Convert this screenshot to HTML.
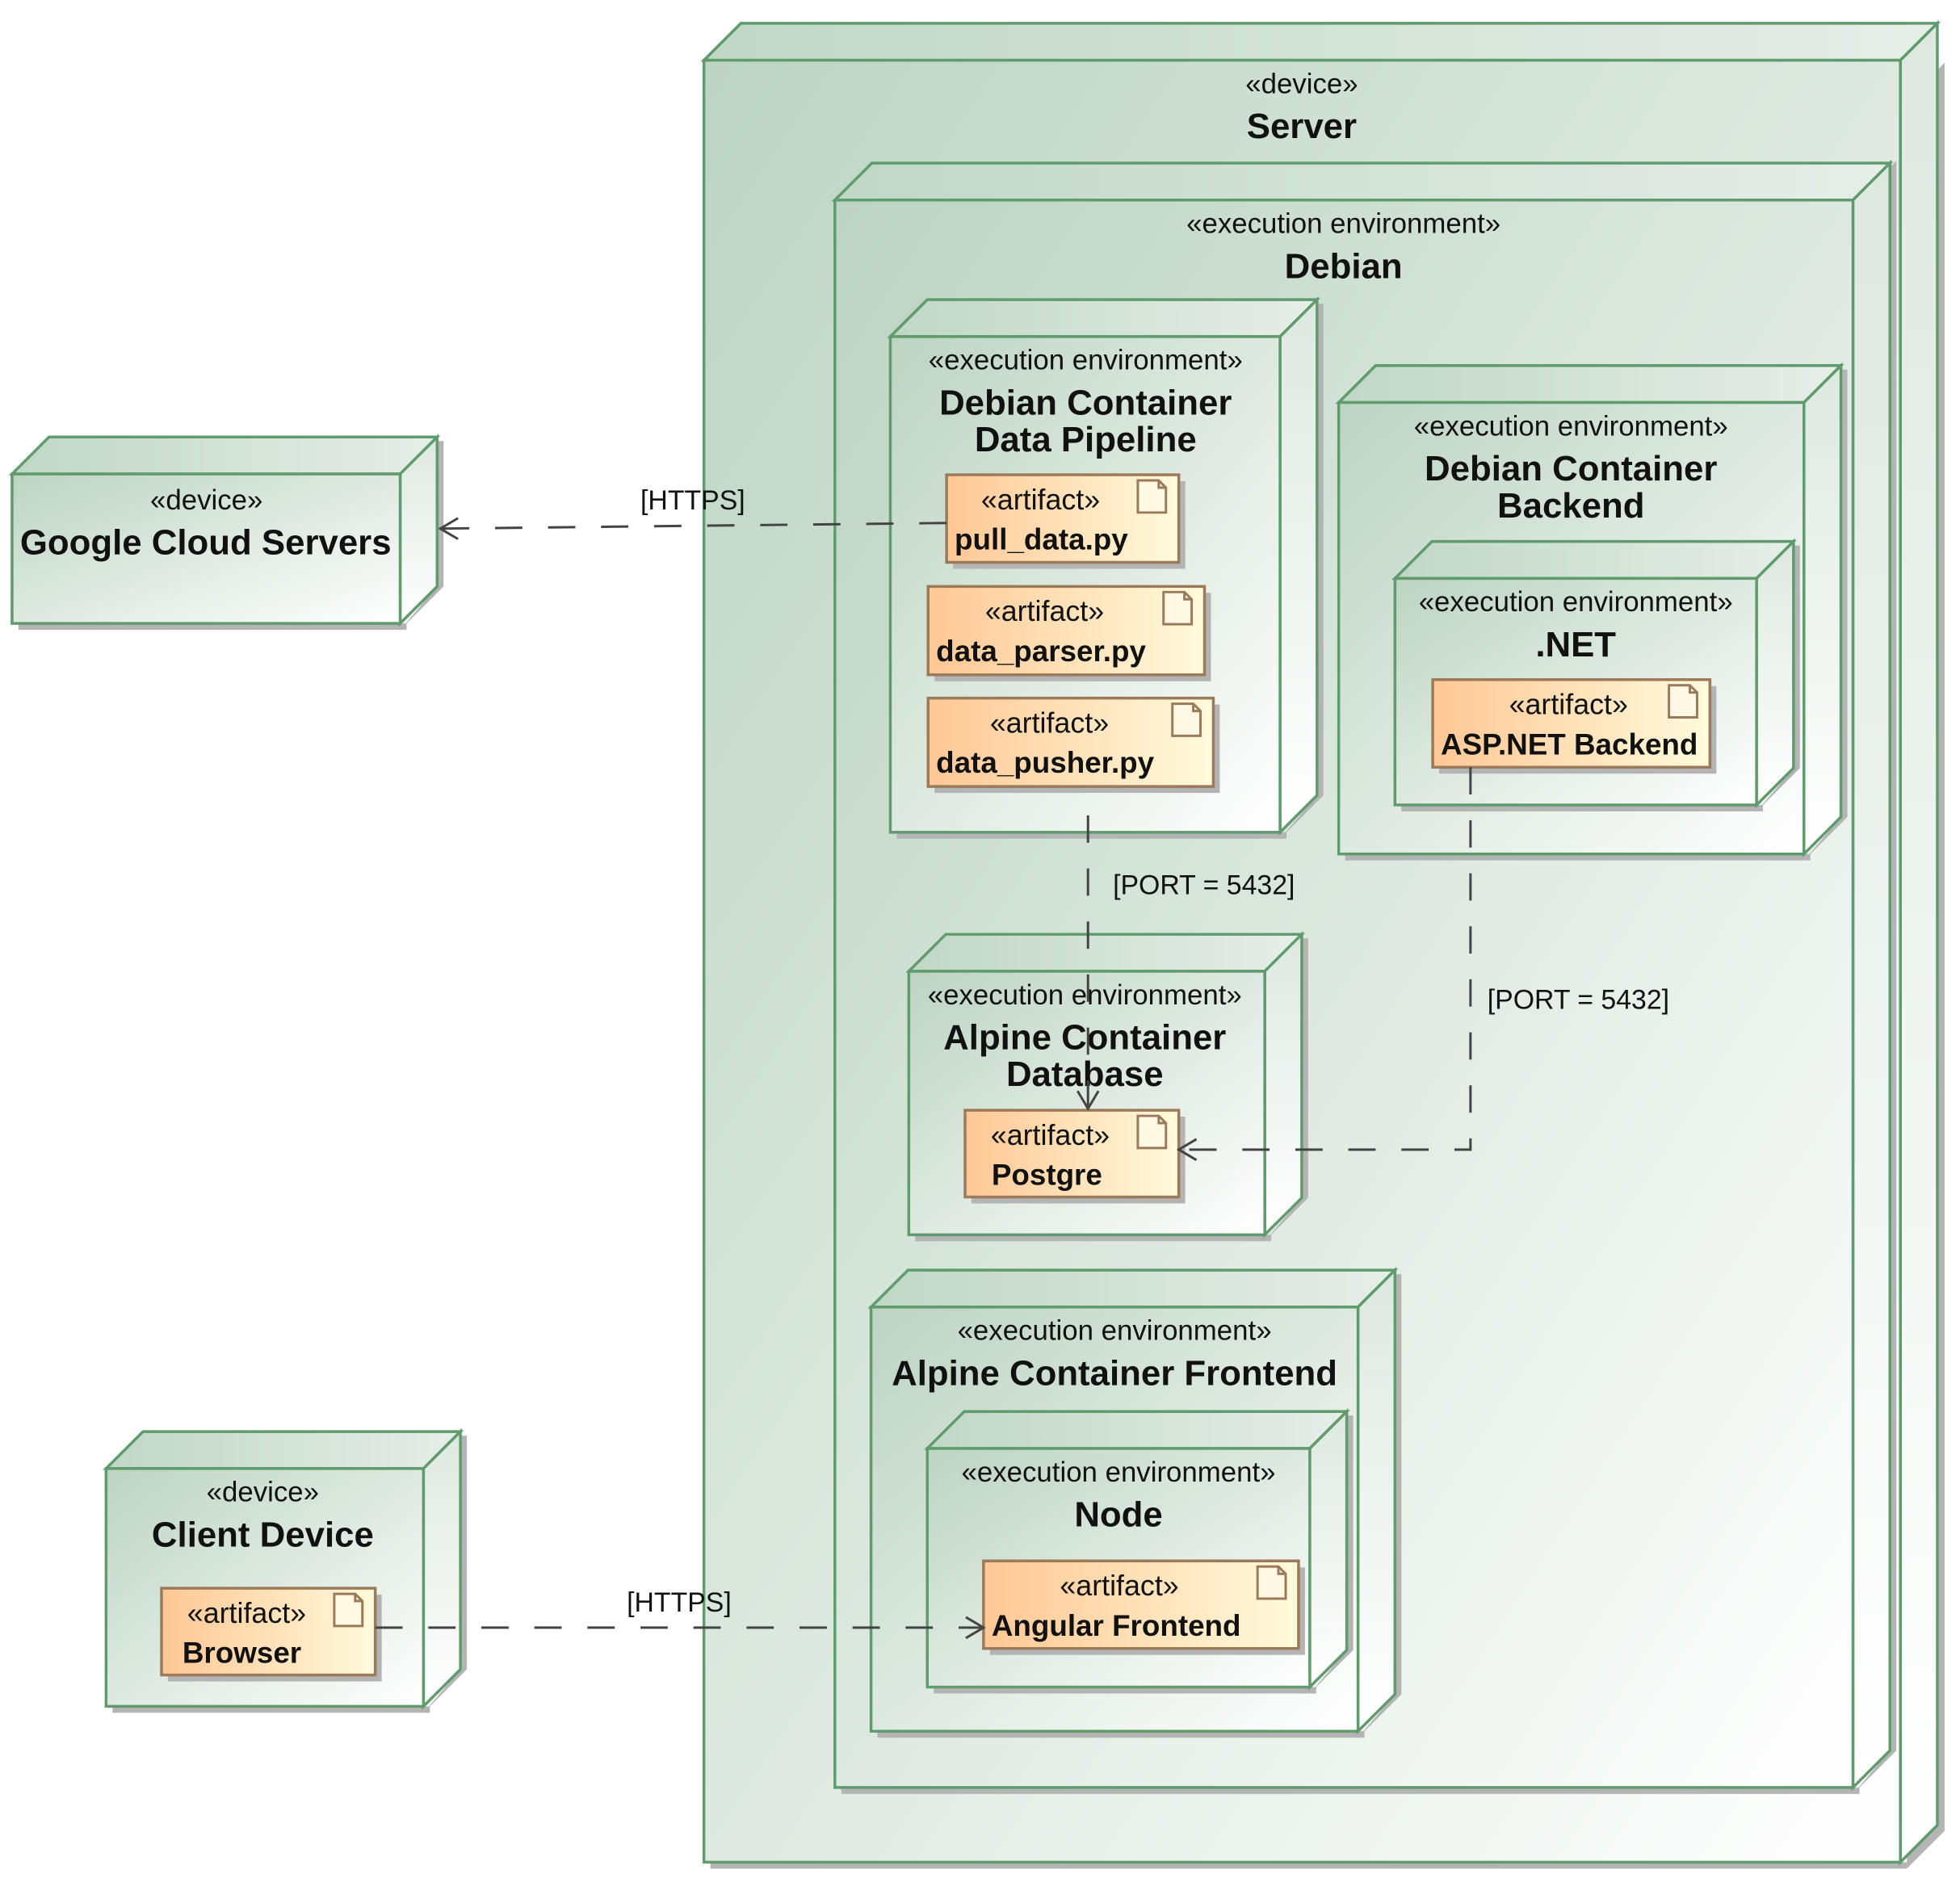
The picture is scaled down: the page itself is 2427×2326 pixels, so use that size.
<!DOCTYPE html>
<html><head><meta charset="utf-8"><style>
html,body{margin:0;padding:0;background:#fff;}
svg{display:block;}
.st{font-family:"Liberation Sans",sans-serif;font-size:35px;fill:#111;text-anchor:middle;}
.sa{font-family:"Liberation Sans",sans-serif;font-size:36px;fill:#111;text-anchor:middle;}
.nm{font-family:"Liberation Sans",sans-serif;font-size:44px;font-weight:bold;fill:#111;text-anchor:middle;}
.an{font-family:"Liberation Sans",sans-serif;font-size:37px;font-weight:bold;fill:#111;}
.lb{font-family:"Liberation Sans",sans-serif;font-size:34px;fill:#111;}
.fr{stroke:#5f9b6c;stroke-width:3.5;fill:url(#g);}
.tp{stroke:#5f9b6c;stroke-width:3.5;fill:url(#gt);}
.rt{stroke:#5f9b6c;stroke-width:3.5;fill:url(#gr);}
.sh{fill:#b4b4b4;}
.ar{stroke:#9b7a5a;stroke-width:3.5;fill:url(#ga);}
.ic{stroke:#9b7a5a;stroke-width:3;fill:#fff8e4;}
.cn{stroke:#444;stroke-width:3;fill:none;stroke-dasharray:34 32;}
.ah{stroke:#444;stroke-width:3;fill:none;}
</style></head><body>
<svg width="2427" height="2326" viewBox="0 0 2427 2326" xmlns="http://www.w3.org/2000/svg">
<defs>
<linearGradient id="g" x1="0" y1="0" x2="1" y2="1"><stop offset="0" stop-color="#bcd4c2"/><stop offset="1" stop-color="#ffffff"/></linearGradient>
<linearGradient id="gt" x1="0" y1="0" x2="1" y2="0"><stop offset="0" stop-color="#c0d7c6"/><stop offset="1" stop-color="#e6eee8"/></linearGradient>
<linearGradient id="gr" x1="0" y1="0" x2="0" y2="1"><stop offset="0" stop-color="#dde9e0"/><stop offset="1" stop-color="#ffffff"/></linearGradient>
<linearGradient id="ga" x1="0" y1="0" x2="1" y2="0"><stop offset="0" stop-color="#ffc794"/><stop offset="1" stop-color="#fffbdc"/></linearGradient>
</defs>
<g transform="scale(0.995)">
<!-- Server -->
<g>
<polygon class="sh" points="2373,2326 2420,2279 2420,78 2373,125"/>
<rect class="sh" x="884" y="2318" width="1489" height="8"/>
<polygon class="tp" points="876,75 922,29 2411,29 2365,75"/>
<polygon class="rt" points="2365,75 2411,29 2411,2272 2365,2318"/>
<rect class="fr" x="876" y="75" width="1489" height="2243"/>
<text class="st" x="1620" y="116">«device»</text>
<text class="nm" x="1620" y="172">Server</text>
</g>

<!-- Debian -->
<g>
<rect class="sh" x="1047" y="2225" width="1267" height="8"/>
<polygon class="sh" points="2306,2233 2360,2179 2360,200 2352,208 2352,2179"/>
<polygon class="tp" points="1039,249 1085,203 2352,203 2306,249"/>
<polygon class="rt" points="2306,249 2352,203 2352,2179 2306,2225"/>
<rect class="fr" x="1039" y="249" width="1267" height="1976"/>
<text class="st" x="1672" y="290">«execution environment»</text>
<text class="nm" x="1672" y="346">Debian</text>
</g>

<!-- Pipeline -->
<g transform="translate(5,0)">
<rect class="sh" x="1111" y="1036" width="485" height="8"/>
<polygon class="sh" points="1588,1044 1642,990 1642,378 1634,378 1634,990"/>
<polygon class="tp" points="1103,419 1149,373 1634,373 1588,419"/>
<polygon class="rt" points="1588,419 1634,373 1634,990 1588,1036"/>
<rect class="fr" x="1103" y="419" width="485" height="617"/>
<text class="st" x="1346" y="460">«execution environment»</text>
<text class="nm" x="1346" y="516">Debian Container</text>
<text class="nm" x="1346" y="562">Data Pipeline</text>
</g>

<!-- Backend -->
<g>
<rect class="sh" x="1674" y="1063" width="579" height="8"/>
<polygon class="sh" points="2245,1071 2299,1017 2299,460 2291,460 2291,1017"/>
<polygon class="tp" points="1666,501 1712,455 2291,455 2245,501"/>
<polygon class="rt" points="2245,501 2291,455 2291,1017 2245,1063"/>
<rect class="fr" x="1666" y="501" width="579" height="562"/>
<text class="st" x="1955" y="542">«execution environment»</text>
<text class="nm" x="1955" y="598">Debian Container</text>
<text class="nm" x="1955" y="644">Backend</text>
</g>

<!-- .NET -->
<g>
<rect class="sh" x="1744" y="1002" width="450" height="8"/>
<polygon class="sh" points="2186,1010 2240,956 2240,679 2232,679 2232,956"/>
<polygon class="tp" points="1736,720 1782,674 2232,674 2186,720"/>
<polygon class="rt" points="2186,720 2232,674 2232,956 2186,1002"/>
<rect class="fr" x="1736" y="720" width="450" height="282"/>
<text class="st" x="1961" y="761">«execution environment»</text>
<text class="nm" x="1961" y="817">.NET</text>
</g>

<!-- Alpine DB -->
<g>
<rect class="sh" x="1139" y="1537" width="443" height="8"/>
<polygon class="sh" points="1574,1545 1628,1491 1628,1168 1620,1168 1620,1491"/>
<polygon class="tp" points="1131,1209 1177,1163 1620,1163 1574,1209"/>
<polygon class="rt" points="1574,1209 1620,1163 1620,1491 1574,1537"/>
<rect class="fr" x="1131" y="1209" width="443" height="328"/>
<text class="st" x="1350" y="1250">«execution environment»</text>
<text class="nm" x="1350" y="1306">Alpine Container</text>
<text class="nm" x="1350" y="1352">Database</text>
</g>

<!-- Frontend -->
<g>
<rect class="sh" x="1092" y="2155" width="606" height="8"/>
<polygon class="sh" points="1690,2163 1744,2109 1744,1586 1736,1586 1736,2109"/>
<polygon class="tp" points="1084,1627 1130,1581 1736,1581 1690,1627"/>
<polygon class="rt" points="1690,1627 1736,1581 1736,2109 1690,2155"/>
<rect class="fr" x="1084" y="1627" width="606" height="528"/>
<text class="st" x="1387" y="1668">«execution environment»</text>
<text class="nm" x="1387" y="1724">Alpine Container Frontend</text>
</g>

<!-- Node -->
<g>
<rect class="sh" x="1162" y="2100" width="476" height="8"/>
<polygon class="sh" points="1630,2108 1684,2054 1684,1762 1676,1762 1676,2054"/>
<polygon class="tp" points="1154,1803 1200,1757 1676,1757 1630,1803"/>
<polygon class="rt" points="1630,1803 1676,1757 1676,2054 1630,2100"/>
<rect class="fr" x="1154" y="1803" width="476" height="297"/>
<text class="st" x="1392" y="1844">«execution environment»</text>
<text class="nm" x="1392" y="1900">Node</text>
</g>

<!-- Google -->
<g>
<rect class="sh" x="23" y="776" width="483" height="8"/>
<polygon class="sh" points="498,784 552,730 552,549 544,549 544,730"/>
<polygon class="tp" points="15,590 61,544 544,544 498,590"/>
<polygon class="rt" points="498,590 544,544 544,730 498,776"/>
<rect class="fr" x="15" y="590" width="483" height="186"/>
<text class="st" x="257" y="634">«device»</text>
<text class="nm" x="256" y="690">Google Cloud Servers</text>
</g>

<!-- Client -->
<g>
<rect class="sh" x="140" y="2124" width="395" height="8"/>
<polygon class="sh" points="527,2132 581,2078 581,1787 573,1787 573,2078"/>
<polygon class="tp" points="132,1828 178,1782 573,1782 527,1828"/>
<polygon class="rt" points="527,1828 573,1782 573,2078 527,2124"/>
<rect class="fr" x="132" y="1828" width="395" height="296"/>
<text class="st" x="327" y="1869">«device»</text>
<text class="nm" x="327" y="1925">Client Device</text>
</g>

<!-- Artifacts -->
<g transform="translate(6,0)">
<g>
<rect class="sh" x="1180" y="599" width="289" height="109"/>
<rect class="ar" x="1172" y="591" width="289" height="109"/>
<path class="ic" d="M1410,598 h26 l9,9 v31 h-35 z M1436,598 v9 h9"/>
<text class="sa" x="1289" y="634">«artifact»</text>
<text class="an" x="1182" y="684">pull_data.py</text>
</g>
<g>
<rect class="sh" x="1157" y="738" width="344" height="110"/>
<rect class="ar" x="1149" y="730" width="344" height="110"/>
<path class="ic" d="M1442,737 h26 l9,9 v31 h-35 z M1468,737 v9 h9"/>
<text class="sa" x="1294" y="773">«artifact»</text>
<text class="an" x="1159" y="823">data_parser.py</text>
</g>
<g>
<rect class="sh" x="1157" y="877" width="355" height="110"/>
<rect class="ar" x="1149" y="869" width="355" height="110"/>
<path class="ic" d="M1453,876 h26 l9,9 v31 h-35 z M1479,876 v9 h9"/>
<text class="sa" x="1300" y="912">«artifact»</text>
<text class="an" x="1159" y="962">data_pusher.py</text>
</g>
</g>
<g>
<rect class="sh" x="1791" y="854" width="345" height="109"/>
<rect class="ar" x="1783" y="846" width="345" height="109"/>
<path class="ic" d="M2077,853 h26 l9,9 v31 h-35 z M2103,853 v9 h9"/>
<text class="sa" x="1952" y="889">«artifact»</text>
<text class="an" x="1793" y="939">ASP.NET Backend</text>
</g>
<g>
<rect class="sh" x="1209" y="1390" width="266" height="108"/>
<rect class="ar" x="1201" y="1382" width="266" height="108"/>
<path class="ic" d="M1416,1389 h26 l9,9 v31 h-35 z M1442,1389 v9 h9"/>
<text class="sa" x="1307" y="1425">«artifact»</text>
<text class="an" x="1234" y="1475">Postgre</text>
</g>
<g>
<rect class="sh" x="1232" y="1951" width="392" height="109"/>
<rect class="ar" x="1224" y="1943" width="392" height="109"/>
<path class="ic" d="M1565,1950 h26 l9,9 v31 h-35 z M1591,1950 v9 h9"/>
<text class="sa" x="1393" y="1986">«artifact»</text>
<text class="an" x="1234" y="2036">Angular Frontend</text>
</g>
<g>
<rect class="sh" x="209" y="1985" width="266" height="108"/>
<rect class="ar" x="201" y="1977" width="266" height="108"/>
<path class="ic" d="M416,1984 h26 l9,9 v31 h-35 z M442,1984 v9 h9"/>
<text class="sa" x="307" y="2020">«artifact»</text>
<text class="an" x="227" y="2070">Browser</text>
</g>

<!-- Connectors -->
<line class="cn" x1="1178" y1="651" x2="548" y2="658"/>
<path class="ah" d="M570,645 L548,658 L570,671"/>
<text class="lb" x="797" y="634">[HTTPS]</text>

<line class="cn" x1="1354" y1="1015" x2="1354" y2="1380"/>
<path class="ah" d="M1341,1358 L1354,1380 L1367,1358"/>
<text class="lb" x="1385" y="1113">[PORT = 5432]</text>

<polyline class="cn" points="1830,955 1830,1431 1467,1431"/>
<path class="ah" d="M1489,1418 L1467,1431 L1489,1444"/>
<text class="lb" x="1851" y="1256">[PORT = 5432]</text>

<line class="cn" x1="467" y1="2026" x2="1224" y2="2026"/>
<path class="ah" d="M1202,2013 L1224,2026 L1202,2039"/>
<text class="lb" x="780" y="2006">[HTTPS]</text>
</g>
</svg>
</body></html>
